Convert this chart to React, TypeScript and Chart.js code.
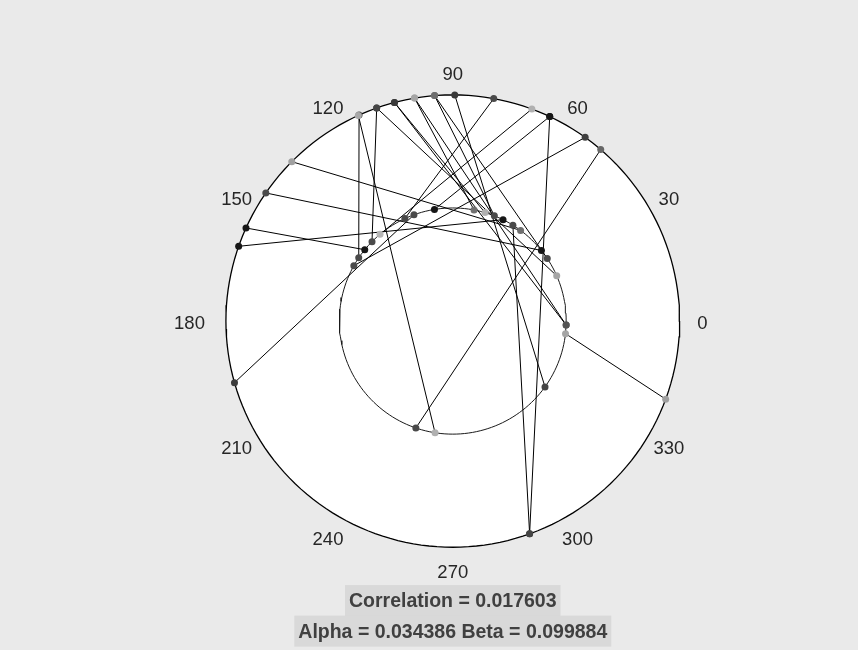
import React, { useEffect, useRef } from "react";
import { Chart, registerables } from "chart.js";

Chart.register(...registerables);

// Each pair: a point at startAngle (radius startRadius) linked to a point at endAngle (radius endRadius)
const startAngleDeg = [195.8, 160.7, 155.7, 145.5, 135.2, 114.4, 114.6, 109.6, 109.6, 104.9, 104.9, 99.7, 99.7, 94.6, 94.6, 89.5, 79.6, 69.6, 64.7, 64.7, 54.3, 49.3, 339.8, 289.8];
const startRadius = [1, 1, 1, 1, 1, 1, 1, 1, 1, 1, 1, 1, 1, 1, 1, 1, 1, 1, 1, 1, 1, 1, 1, 1];
const endAngleDeg = [110, 63.7, 140.9, 38.6, 53.3, 146, 261, 135.4, 23.6, 358, 73.5, 79.2, 358, 33.6, 68.5, 324.4, 115, 129.9, 289.8, 99.3, 150.7, 251, 353.6, 58];
const endRadius = [0.5, 0.5, 0.5, 0.5, 0.5, 0.5, 0.5, 0.5, 0.5, 0.5, 0.5, 0.5, 0.5, 0.5, 0.5, 0.5, 0.5, 0.5, 1, 0.5, 0.5, 0.5, 0.5, 0.5];
const startShade = ["#3c3c3c", "#161616", "#161616", "#4a4a4a", "#a0a0a0", "#4a4a4a", "#a8a8a8", "#454545", "#454545", "#3a3a3a", "#3a3a3a", "#a5a5a5", "#a5a5a5", "#6e6e6e", "#6e6e6e", "#383838", "#4a4a4a", "#b0b0b0", "#161616", "#161616", "#404040", "#676767", "#a0a0a0", "#454545"];
const endShade = ["#4a4a4a", "#161616", "#161616", "#161616", "#6e6e6e", "#4a4a4a", "#b0b0b0", "#4a4a4a", "#a5a5a5", "#555555", "#b0b0b0", "#707070", "#555555", "#4a4a4a", "#4a4a4a", "#454545", "#4a4a4a", "#b5b5b5", "#454545", "#161616", "#4a4a4a", "#4a4a4a", "#a5a5a5", "#4a4a4a"];

const outerCircleRadius = 1;
const innerCircleRadius = 0.5;
const angleTicks = [0, 30, 60, 90, 120, 150, 180, 210, 240, 270, 300, 330];
const correlationText = "Correlation = 0.017603";
const alphaBetaText = "Alpha = 0.034386 Beta = 0.099884";

function polar(deg: number, r: number) {
  const t = (deg * Math.PI) / 180;
  return { x: r * Math.cos(t), y: r * Math.sin(t) };
}

function circle(r: number) {
  const pts: { x: number; y: number }[] = [];
  for (let a = 0; a <= 360; a += 2) pts.push(polar(a, r));
  return pts;
}

export default function App() {
  const ref = useRef<HTMLCanvasElement>(null);

  useEffect(() => {
    document.body.style.margin = "0";
    const canvas = ref.current;
    if (!canvas) return;

    const segDatasets: any[] = startAngleDeg.map((a, i) => ({
      data: [polar(a, startRadius[i]), polar(endAngleDeg[i], endRadius[i])],
      showLine: true,
      borderColor: "#000000",
      borderWidth: 1,
      pointRadius: 0,
      order: 2,
    }));

    const pointData: { x: number; y: number }[] = [];
    const pointColors: string[] = [];
    startAngleDeg.forEach((a, i) => {
      pointData.push(polar(a, startRadius[i]));
      pointColors.push(startShade[i]);
    });
    endAngleDeg.forEach((a, i) => {
      pointData.push(polar(a, endRadius[i]));
      pointColors.push(endShade[i]);
    });

    const backgroundPlugin = {
      id: "bg",
      beforeDraw(chart: any) {
        const { ctx, scales } = chart;
        ctx.save();
        ctx.fillStyle = "#eaeaea";
        ctx.fillRect(0, 0, chart.width, chart.height);
        const cx = scales.x.getPixelForValue(0);
        const cy = scales.y.getPixelForValue(0);
        const r = scales.x.getPixelForValue(outerCircleRadius) - cx;
        ctx.fillStyle = "#ffffff";
        ctx.beginPath();
        ctx.arc(cx, cy, r, 0, Math.PI * 2);
        ctx.fill();
        ctx.restore();
      },
      afterDraw(chart: any) {
        const { ctx, scales } = chart;
        ctx.save();
        ctx.fillStyle = "#262626";
        ctx.font = "18.5px 'Liberation Sans', Arial, sans-serif";
        ctx.textAlign = "center";
        ctx.textBaseline = "middle";
        angleTicks.forEach((deg) => {
          const p = polar(deg, 1.1);
          const c = Math.cos((deg * Math.PI) / 180);
          const extra = c < -0.99 ? 0.055 : 0;
          const px = scales.x.getPixelForValue(p.x * (1 + extra));
          const py = scales.y.getPixelForValue(p.y) + 3;
          ctx.fillText(String(deg), px, py);
        });
        ctx.font = "bold 19.5px 'Liberation Sans', Arial, sans-serif";
        const drawBox = (text: string, yVal: number) => {
          const cx = scales.x.getPixelForValue(0);
          const cy = scales.y.getPixelForValue(yVal);
          const w = ctx.measureText(text).width + 8;
          const h = 31;
          ctx.fillStyle = "#d9d9d9";
          ctx.fillRect(cx - w / 2, cy - h / 2, w, h);
          ctx.fillStyle = "#404040";
          ctx.fillText(text, cx, cy + 1);
        };
        drawBox(correlationText, -1.2358);
        drawBox(alphaBetaText, -1.371);
        ctx.restore();
      },
    };

    const chart = new Chart(canvas, {
      type: "scatter",
      data: {
        datasets: [
          {
            data: pointData,
            pointRadius: 3.5,
            pointBackgroundColor: pointColors,
            pointBorderColor: pointColors,
            pointBorderWidth: 0,
            showLine: false,
            order: 0,
          },
          ...segDatasets,
          {
            data: circle(innerCircleRadius),
            showLine: true,
            borderColor: "#1a1a1a",
            borderWidth: 1,
            pointRadius: 0,
            order: 3,
          },
          {
            data: circle(outerCircleRadius),
            showLine: true,
            borderColor: "#000000",
            borderWidth: 1.3,
            pointRadius: 0,
            order: 3,
          },
        ],
      },
      options: {
        animation: false,
        responsive: false,
        maintainAspectRatio: false,
        layout: { padding: 0 },
        plugins: { legend: { display: false }, tooltip: { enabled: false } },
        scales: {
          x: { type: "linear", display: false, min: -453 / 229, max: 405 / 229 },
          y: { type: "linear", display: false, min: -329 / 229, max: 321 / 229 },
        },
      },
      plugins: [backgroundPlugin],
    });

    return () => chart.destroy();
  }, []);

  return (
    <div style={{ position: "fixed", left: 0, top: 0, width: 858, height: 650 }}>
      <canvas ref={ref} width={858} height={650} style={{ width: 858, height: 650, display: "block" }} />
    </div>
  );
}
